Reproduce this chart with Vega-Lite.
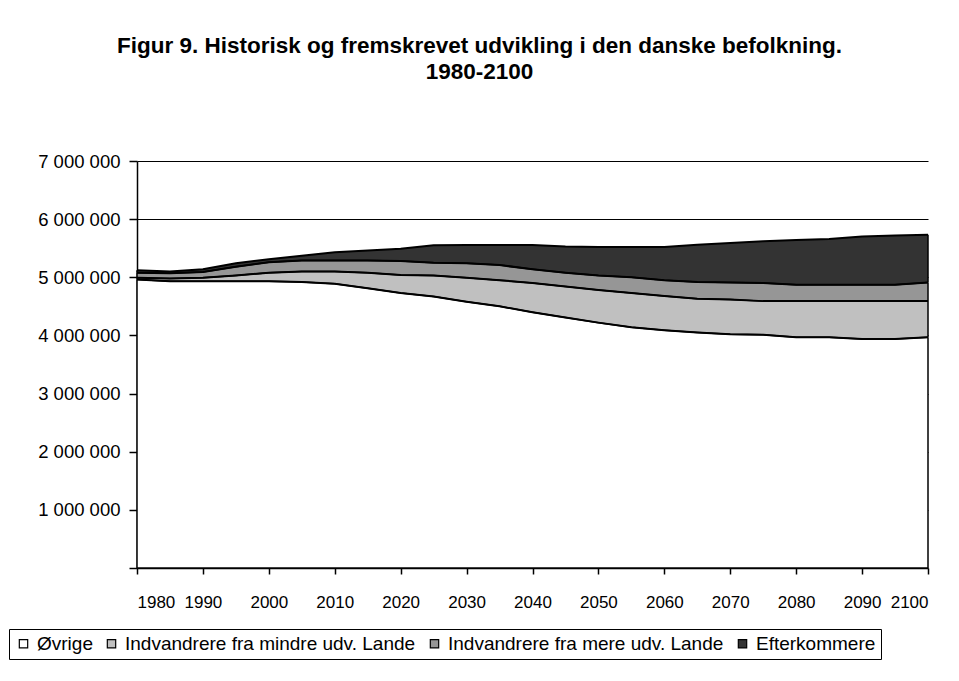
{
  "$schema": "https://vega.github.io/schema/vega-lite/v6.json",
  "width": 791,
  "height": 407,
  "autosize": {"type": "none"},
  "padding": {"left": 137, "top": 161, "right": 31, "bottom": 113},
  "background": "white",
  "title": {
    "text": ["Figur 9. Historisk og fremskrevet udvikling i den danske befolkning.", "1980-2100"],
    "anchor": "middle",
    "dx": -53,
    "offset": 69,
    "font": "Liberation Sans",
    "fontSize": 22.5,
    "fontWeight": "bold",
    "lineHeight": 26,
    "color": "black"
  },
  "data": {
    "values": [
      {"year": 1980, "group": "Øvrige", "value": 4960000},
      {"year": 1980, "group": "Indvandrere fra mindre udv. Lande", "value": 30000},
      {"year": 1980, "group": "Indvandrere fra mere udv. Lande", "value": 90000},
      {"year": 1980, "group": "Efterkommere", "value": 40000},
      {"year": 1985, "group": "Øvrige", "value": 4930000},
      {"year": 1985, "group": "Indvandrere fra mindre udv. Lande", "value": 50000},
      {"year": 1985, "group": "Indvandrere fra mere udv. Lande", "value": 90000},
      {"year": 1985, "group": "Efterkommere", "value": 30000},
      {"year": 1990, "group": "Øvrige", "value": 4930000},
      {"year": 1990, "group": "Indvandrere fra mindre udv. Lande", "value": 60000},
      {"year": 1990, "group": "Indvandrere fra mere udv. Lande", "value": 100000},
      {"year": 1990, "group": "Efterkommere", "value": 50000},
      {"year": 1995, "group": "Øvrige", "value": 4930000},
      {"year": 1995, "group": "Indvandrere fra mindre udv. Lande", "value": 100000},
      {"year": 1995, "group": "Indvandrere fra mere udv. Lande", "value": 150000},
      {"year": 1995, "group": "Efterkommere", "value": 60000},
      {"year": 2000, "group": "Øvrige", "value": 4930000},
      {"year": 2000, "group": "Indvandrere fra mindre udv. Lande", "value": 150000},
      {"year": 2000, "group": "Indvandrere fra mere udv. Lande", "value": 180000},
      {"year": 2000, "group": "Efterkommere", "value": 50000},
      {"year": 2005, "group": "Øvrige", "value": 4920000},
      {"year": 2005, "group": "Indvandrere fra mindre udv. Lande", "value": 180000},
      {"year": 2005, "group": "Indvandrere fra mere udv. Lande", "value": 190000},
      {"year": 2005, "group": "Efterkommere", "value": 80000},
      {"year": 2010, "group": "Øvrige", "value": 4890000},
      {"year": 2010, "group": "Indvandrere fra mindre udv. Lande", "value": 210000},
      {"year": 2010, "group": "Indvandrere fra mere udv. Lande", "value": 190000},
      {"year": 2010, "group": "Efterkommere", "value": 140000},
      {"year": 2015, "group": "Øvrige", "value": 4810000},
      {"year": 2015, "group": "Indvandrere fra mindre udv. Lande", "value": 270000},
      {"year": 2015, "group": "Indvandrere fra mere udv. Lande", "value": 210000},
      {"year": 2015, "group": "Efterkommere", "value": 170000},
      {"year": 2020, "group": "Øvrige", "value": 4730000},
      {"year": 2020, "group": "Indvandrere fra mindre udv. Lande", "value": 310000},
      {"year": 2020, "group": "Indvandrere fra mere udv. Lande", "value": 240000},
      {"year": 2020, "group": "Efterkommere", "value": 210000},
      {"year": 2025, "group": "Øvrige", "value": 4670000},
      {"year": 2025, "group": "Indvandrere fra mindre udv. Lande", "value": 360000},
      {"year": 2025, "group": "Indvandrere fra mere udv. Lande", "value": 220000},
      {"year": 2025, "group": "Efterkommere", "value": 300000},
      {"year": 2030, "group": "Øvrige", "value": 4580000},
      {"year": 2030, "group": "Indvandrere fra mindre udv. Lande", "value": 410000},
      {"year": 2030, "group": "Indvandrere fra mere udv. Lande", "value": 250000},
      {"year": 2030, "group": "Efterkommere", "value": 315000},
      {"year": 2035, "group": "Øvrige", "value": 4500000},
      {"year": 2035, "group": "Indvandrere fra mindre udv. Lande", "value": 450000},
      {"year": 2035, "group": "Indvandrere fra mere udv. Lande", "value": 260000},
      {"year": 2035, "group": "Efterkommere", "value": 345000},
      {"year": 2040, "group": "Øvrige", "value": 4400000},
      {"year": 2040, "group": "Indvandrere fra mindre udv. Lande", "value": 500000},
      {"year": 2040, "group": "Indvandrere fra mere udv. Lande", "value": 240000},
      {"year": 2040, "group": "Efterkommere", "value": 415000},
      {"year": 2045, "group": "Øvrige", "value": 4310000},
      {"year": 2045, "group": "Indvandrere fra mindre udv. Lande", "value": 530000},
      {"year": 2045, "group": "Indvandrere fra mere udv. Lande", "value": 240000},
      {"year": 2045, "group": "Efterkommere", "value": 450000},
      {"year": 2050, "group": "Øvrige", "value": 4220000},
      {"year": 2050, "group": "Indvandrere fra mindre udv. Lande", "value": 560000},
      {"year": 2050, "group": "Indvandrere fra mere udv. Lande", "value": 250000},
      {"year": 2050, "group": "Efterkommere", "value": 490000},
      {"year": 2055, "group": "Øvrige", "value": 4140000},
      {"year": 2055, "group": "Indvandrere fra mindre udv. Lande", "value": 590000},
      {"year": 2055, "group": "Indvandrere fra mere udv. Lande", "value": 270000},
      {"year": 2055, "group": "Efterkommere", "value": 520000},
      {"year": 2060, "group": "Øvrige", "value": 4090000},
      {"year": 2060, "group": "Indvandrere fra mindre udv. Lande", "value": 590000},
      {"year": 2060, "group": "Indvandrere fra mere udv. Lande", "value": 270000},
      {"year": 2060, "group": "Efterkommere", "value": 570000},
      {"year": 2065, "group": "Øvrige", "value": 4050000},
      {"year": 2065, "group": "Indvandrere fra mindre udv. Lande", "value": 580000},
      {"year": 2065, "group": "Indvandrere fra mere udv. Lande", "value": 290000},
      {"year": 2065, "group": "Efterkommere", "value": 640000},
      {"year": 2070, "group": "Øvrige", "value": 4020000},
      {"year": 2070, "group": "Indvandrere fra mindre udv. Lande", "value": 600000},
      {"year": 2070, "group": "Indvandrere fra mere udv. Lande", "value": 290000},
      {"year": 2070, "group": "Efterkommere", "value": 680000},
      {"year": 2075, "group": "Øvrige", "value": 4010000},
      {"year": 2075, "group": "Indvandrere fra mindre udv. Lande", "value": 580000},
      {"year": 2075, "group": "Indvandrere fra mere udv. Lande", "value": 310000},
      {"year": 2075, "group": "Efterkommere", "value": 720000},
      {"year": 2080, "group": "Øvrige", "value": 3970000},
      {"year": 2080, "group": "Indvandrere fra mindre udv. Lande", "value": 620000},
      {"year": 2080, "group": "Indvandrere fra mere udv. Lande", "value": 280000},
      {"year": 2080, "group": "Efterkommere", "value": 770000},
      {"year": 2085, "group": "Øvrige", "value": 3970000},
      {"year": 2085, "group": "Indvandrere fra mindre udv. Lande", "value": 620000},
      {"year": 2085, "group": "Indvandrere fra mere udv. Lande", "value": 280000},
      {"year": 2085, "group": "Efterkommere", "value": 790000},
      {"year": 2090, "group": "Øvrige", "value": 3940000},
      {"year": 2090, "group": "Indvandrere fra mindre udv. Lande", "value": 650000},
      {"year": 2090, "group": "Indvandrere fra mere udv. Lande", "value": 280000},
      {"year": 2090, "group": "Efterkommere", "value": 830000},
      {"year": 2095, "group": "Øvrige", "value": 3940000},
      {"year": 2095, "group": "Indvandrere fra mindre udv. Lande", "value": 650000},
      {"year": 2095, "group": "Indvandrere fra mere udv. Lande", "value": 280000},
      {"year": 2095, "group": "Efterkommere", "value": 850000},
      {"year": 2100, "group": "Øvrige", "value": 3970000},
      {"year": 2100, "group": "Indvandrere fra mindre udv. Lande", "value": 620000},
      {"year": 2100, "group": "Indvandrere fra mere udv. Lande", "value": 320000},
      {"year": 2100, "group": "Efterkommere", "value": 820000}
    ]
  },
  "transform": [
    {"stack": "value", "groupby": ["year"], "sort": [{"field": "group", "order": "descending"}], "as": ["v0", "v1"]}
  ],
  "encoding": {
    "x": {
      "field": "year",
      "type": "quantitative",
      "scale": {"domain": [1980, 2100], "nice": false, "zero": false},
      "axis": {
        "values": [1980, 1990, 2000, 2010, 2020, 2030, 2040, 2050, 2060, 2070, 2080, 2090, 2100],
        "format": "d",
        "title": null,
        "grid": false,
        "domainColor": "black",
        "domainWidth": 1.5,
        "tickColor": "black",
        "tickWidth": 1.5,
        "tickSize": 6,
        "labelPadding": 20,
        "labelFont": "Liberation Sans",
        "labelFontSize": 17,
        "labelColor": "black"
      }
    }
  },
  "layer": [
    {
      "mark": {"type": "area"},
      "encoding": {
        "y": {
          "field": "v1",
          "type": "quantitative",
          "scale": {"domain": [0, 7000000], "nice": false},
          "axis": {
            "values": [0, 1000000, 2000000, 3000000, 4000000, 5000000, 6000000, 7000000],
            "format": ",d",
            "labelExpr": "datum.value == 0 ? '' : datum.label",
            "title": null,
            "grid": true,
            "gridColor": "black",
            "gridWidth": 1,
            "gridOpacity": 1,
            "domainColor": "black",
            "domainWidth": 1.5,
            "tickColor": "black",
            "tickWidth": 1.5,
            "tickSize": 8,
            "labelPadding": 9,
            "labelFont": "Liberation Sans",
            "labelFontSize": 18.5,
            "labelColor": "black"
          }
        },
        "y2": {"field": "v0"},
        "color": {
          "field": "group",
          "type": "nominal",
          "scale": {
            "domain": ["Øvrige", "Indvandrere fra mindre udv. Lande", "Indvandrere fra mere udv. Lande", "Efterkommere"],
            "range": ["#ffffff", "#c0c0c0", "#969696", "#333333"]
          },
          "legend": {
            "orient": "none",
            "direction": "horizontal",
            "legendX": -128,
            "legendY": 468,
            "title": null,
            "symbolType": "square",
            "symbolSize": 70,
            "symbolStrokeColor": "black",
            "symbolStrokeWidth": 1.2,
            "symbolOpacity": 1,
            "labelFont": "Liberation Sans",
            "labelFontSize": 19,
            "labelColor": "black",
            "labelOffset": 4,
            "columnPadding": 9,
            "padding": 5,
            "strokeColor": "black",
            "labelLimit": 400
          }
        }
      }
    },
    {
      "mark": {"type": "line", "color": "black", "strokeWidth": 2},
      "encoding": {
        "y": {"field": "v1", "type": "quantitative"},
        "detail": {"field": "group", "type": "nominal"}
      }
    },
    {
      "mark": {"type": "line", "color": "black", "strokeWidth": 1.5},
      "encoding": {
        "y": {"field": "v0", "type": "quantitative"},
        "detail": {"field": "group", "type": "nominal"}
      }
    },
    {
      "transform": [{"filter": "datum.year == 2100 || datum.year == 1980"}],
      "mark": {"type": "rule", "color": "black", "strokeWidth": 1.5},
      "encoding": {
        "y": {"field": "v0", "type": "quantitative"},
        "y2": {"field": "v1"}
      }
    }
  ],
  "config": {
    "view": {"stroke": null},
    "locale": {
      "number": {"decimal": ",", "thousands": " ", "grouping": [3], "currency": ["", " kr."]}
    }
  }
}
